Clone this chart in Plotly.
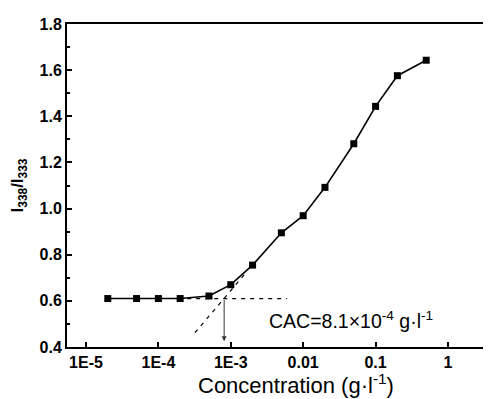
import plotly.graph_objects as go
import math

# ---- data ----
conc = [2e-5, 5e-5, 1e-4, 2e-4, 5e-4, 1e-3, 2e-3, 5e-3, 0.01, 0.02, 0.05, 0.1, 0.2, 0.5]
ratio = [0.610, 0.610, 0.610, 0.610, 0.621, 0.670, 0.755, 0.895, 0.969, 1.092, 1.281, 1.443, 1.576, 1.643]

plateau_x = [2.5e-4, 6e-3]
plateau_y = [0.61, 0.61]
tangent_x = [3.2e-4, 1.62e-3]
tangent_y = [0.462, 0.722]
cac = 8.1e-4

x_tickvals = [1e-5, 1e-4, 1e-3, 1e-2, 1e-1, 1]
x_ticktext = ["1E-5", "1E-4", "1E-3", "0.01", "0.1", "1"]

FONT = "Liberation Sans, Arial, sans-serif"

fig = go.Figure()
fig.add_trace(go.Scatter(x=plateau_x, y=plateau_y, mode="lines",
                         line=dict(color="black", width=1.2, dash="4px,5px"),
                         showlegend=False, hoverinfo="skip"))
fig.add_trace(go.Scatter(x=tangent_x, y=tangent_y, mode="lines",
                         line=dict(color="black", width=1.2, dash="4px,5px"),
                         showlegend=False, hoverinfo="skip"))
fig.add_trace(go.Scatter(x=conc, y=ratio, mode="lines+markers",
                         line=dict(color="black", width=1.6),
                         marker=dict(symbol="square", size=7, color="black"),
                         showlegend=False))

fig.add_annotation(x=math.log10(cac), y=0.425, ax=math.log10(cac), ay=0.61,
                   xref="x", yref="y", axref="x", ayref="y",
                   showarrow=True, arrowhead=2, arrowsize=1, arrowwidth=1,
                   arrowcolor="#333", text="")
fig.add_annotation(x=math.log10(3.2e-3), y=0.517, xref="x", yref="y",
                   xanchor="left", yanchor="middle", showarrow=False,
                   text="CAC=8.1×10<sup>-4</sup> g·l<sup>-1</sup>",
                   font=dict(family=FONT, size=19.5, color="black"))
# x-axis title (the original plot is cropped on the right, so it sits right of centre)
fig.add_annotation(x=0.54, y=0, xref="paper", yref="paper",
                   xanchor="center", yanchor="middle", yshift=-37, showarrow=False,
                   text="Concentration (g·l<sup>-1</sup>)",
                   font=dict(family=FONT, size=22, color="black"))

# the page adds an 8px body margin, so the figure is shifted by 8px
fig.update_layout(
    width=483, height=391,
    margin=dict(l=59, r=0, t=16, b=52),
    paper_bgcolor="white", plot_bgcolor="white",
    font=dict(family=FONT, color="black"),
    xaxis=dict(type="log", range=[-5.262, 0.594],
               tickvals=x_tickvals, ticktext=x_ticktext,
               ticks="inside", ticklen=5, tickwidth=2, tickcolor="black",
               showline=True, linewidth=2, linecolor="black", mirror=True,
               showgrid=False, zeroline=False,
               tickfont=dict(family=FONT, size=16, weight="bold")),
    yaxis=dict(range=[0.4, 1.8], dtick=0.2, tick0=0.4, tickformat=".1f",
               ticks="inside", ticklen=5, tickwidth=2, tickcolor="black",
               minor=dict(dtick=0.1, ticks="inside", ticklen=3, tickwidth=2, tickcolor="black"),
               showline=True, linewidth=2, linecolor="black",
               showgrid=False, zeroline=False,
               tickfont=dict(family=FONT, size=16, weight="bold"),
               title=dict(text="<b>I<sub>338</sub>/I<sub>333</sub></b>",
                          font=dict(family=FONT, size=17), standoff=13)),
)

fig.write_html("out.html")
